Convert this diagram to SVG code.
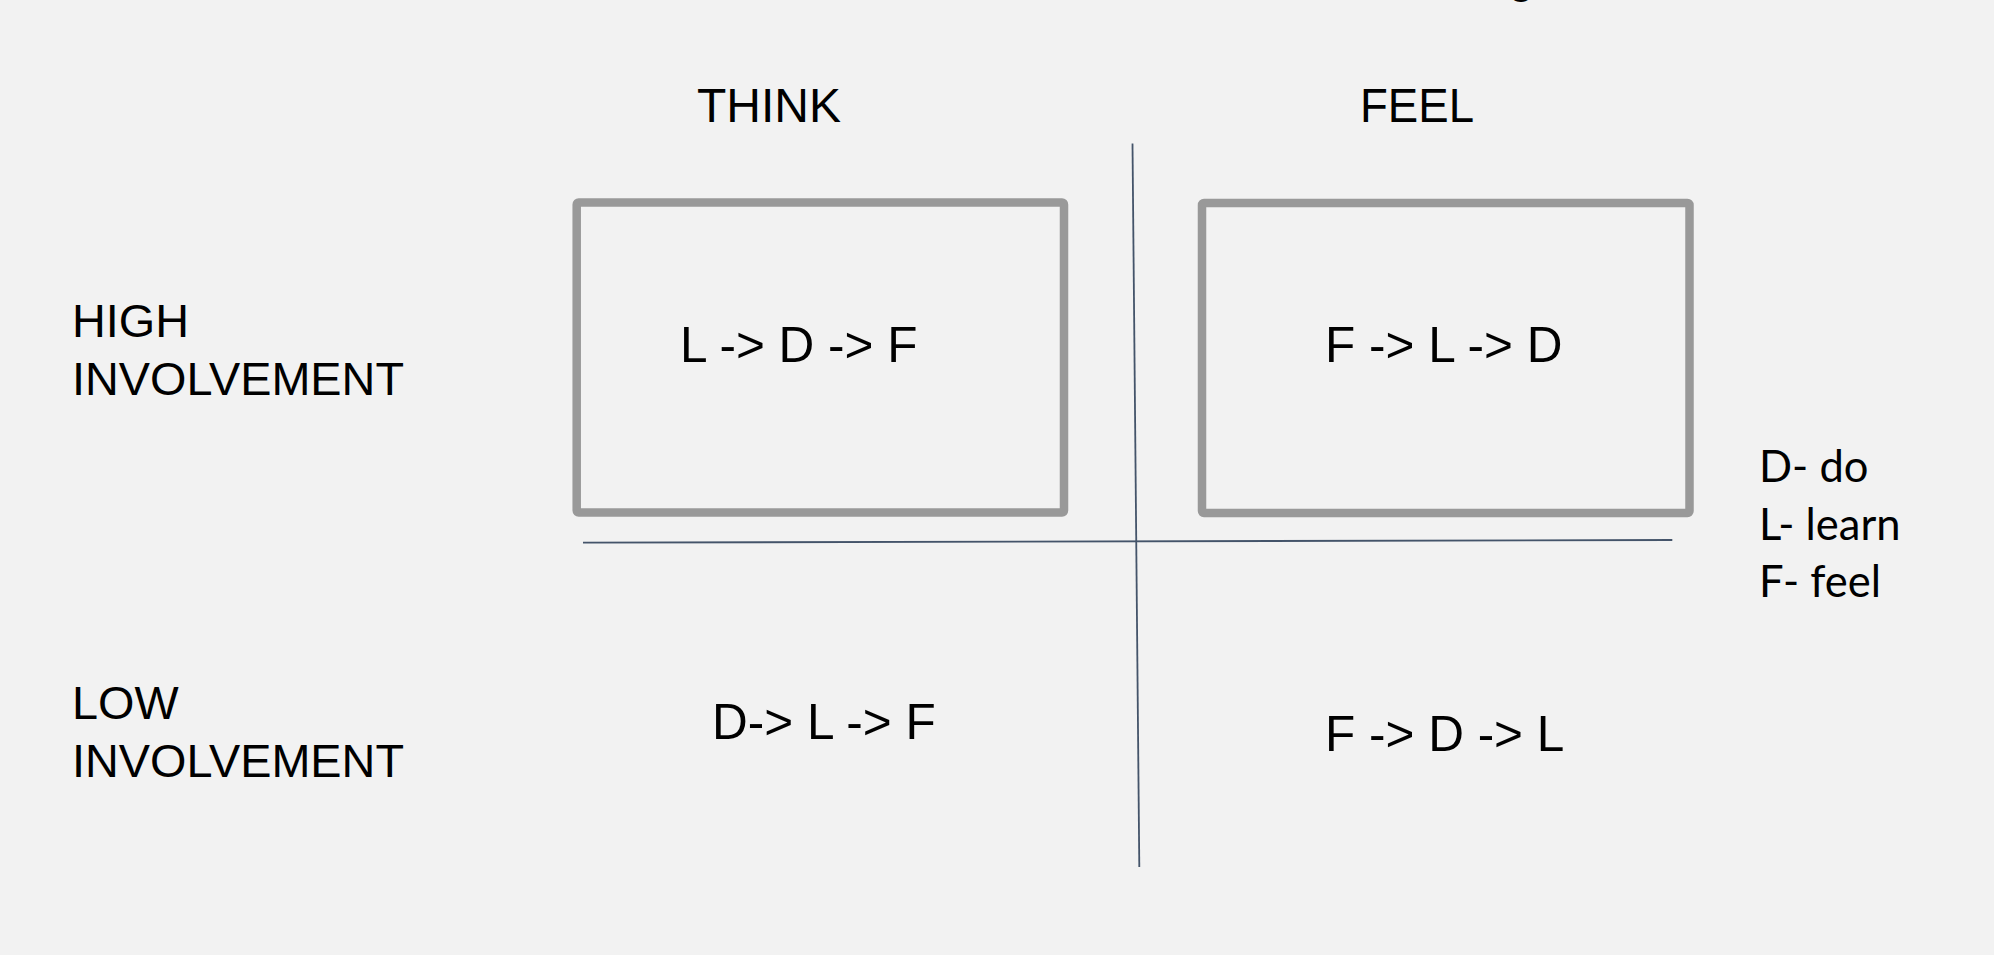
<svg xmlns="http://www.w3.org/2000/svg" width="1994" height="955" viewBox="0 0 1994 955">
  <style>
    .lbl { font-family: "Liberation Sans", Arial, sans-serif; font-size: 48px; fill: #000; }
    .row { font-family: "Liberation Sans", Arial, sans-serif; font-size: 46.8px; fill: #000; }
    .seq { font-family: "Liberation Sans", Arial, sans-serif; font-size: 49.5px; fill: #000; }
    .key { font-family: Lato, "Open Sans", sans-serif; font-size: 43.5px; fill: #000; }
    .box { fill: none; stroke: #999999; stroke-width: 8.5; }
    .axis { stroke: #44546A; stroke-width: 1.8; fill: none; }
  </style>
  <rect x="0" y="0" width="1994" height="955" fill="#F2F2F2"/>

  <!-- title descender clipped at the top edge -->
  <text class="lbl" x="1508" y="-8">g</text>

  <!-- column headers -->
  <text class="lbl" x="697" y="121.7">THINK</text>
  <text class="lbl" x="1360" y="121.7" textLength="114" lengthAdjust="spacingAndGlyphs">FEEL</text>

  <!-- row headers -->
  <g id="row-high">
    <text class="row" x="72" y="337.3">HIGH</text>
    <text class="row" x="72" y="395">INVOLVEMENT</text>
  </g>
  <g id="row-low">
    <text class="row" x="72" y="719.3">LOW</text>
    <text class="row" x="72" y="776.7">INVOLVEMENT</text>
  </g>

  <!-- quadrant axes -->
  <g id="connectors">
    <line class="axis" x1="1132.5" y1="143.5" x2="1139.3" y2="867"/>
    <line class="axis" x1="583" y1="542.7" x2="1672.3" y2="540"/>
  </g>

  <!-- high involvement quadrants -->
  <g id="think-high">
    <rect class="box" x="576.7" y="202.5" width="487.3" height="310" rx="2"/>
    <text class="seq" x="680" y="361.7">L -&gt; D -&gt; F</text>
  </g>
  <g id="feel-high">
    <rect class="box" x="1202" y="203" width="487.5" height="310" rx="2"/>
    <text class="seq" x="1325" y="361.7">F -&gt; L -&gt; D</text>
  </g>

  <!-- low involvement quadrants -->
  <g id="think-low">
    <text class="seq" x="712" y="739.3">D-&gt; L -&gt; F</text>
  </g>
  <g id="feel-low">
    <text class="seq" x="1325" y="750.7">F -&gt; D -&gt; L</text>
  </g>

  <!-- legend -->
  <g id="legend">
    <text class="key" x="1759" y="482.3">D- do</text>
    <text class="key" x="1759" y="540">L- learn</text>
    <text class="key" x="1759" y="596.7">F- feel</text>
  </g>
</svg>
